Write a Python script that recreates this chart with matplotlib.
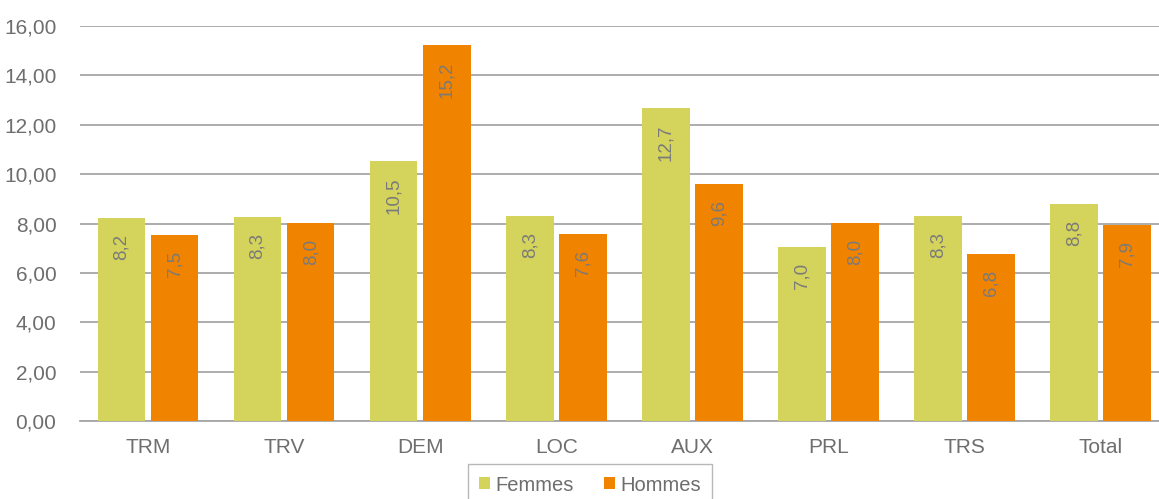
import matplotlib.pyplot as plt
import numpy as np

categories = ["TRM", "TRV", "DEM", "LOC", "AUX", "PRL", "TRS", "Total"]
femmes = [8.24, 8.26, 10.53, 8.30, 12.67, 7.04, 8.30, 8.79]
hommes = [7.53, 8.02, 15.22, 7.57, 9.60, 8.02, 6.76, 7.94]

col_f = "#D4D45C"
col_h = "#F08300"

plt.rcParams["font.family"] = ["Liberation Sans", "DejaVu Sans"]

fig = plt.figure(figsize=(11.59, 4.99), dpi=100)
ax = fig.add_axes([80 / 1159, 78 / 499, 1 - 80 / 1159, 395 / 499])

x = np.arange(len(categories))
w = 0.35
off = 0.195
b1 = ax.bar(x - off, femmes, w, color=col_f, label="Femmes", zorder=3)
b2 = ax.bar(x + off, hommes, w, color=col_h, label="Hommes", zorder=3)

for bars, vals in ((b1, femmes), (b2, hommes)):
    for b, v in zip(bars, vals):
        ax.text(b.get_x() + b.get_width() / 2, v - 0.65, f"{v:.1f}".replace(".", ","),
                rotation=90, ha="center", va="top", color="#7A7A7A",
                fontsize=13.5, zorder=4)

ax.set_ylim(0, 16)
ax.set_xlim(-0.5, 7.43)
ax.set_yticks(np.arange(0, 17, 2))
ax.set_yticklabels([f"{t:.2f}".replace(".", ",") for t in np.arange(0, 17, 2)])
ax.set_xticks(x)
ax.set_xticklabels(categories)
ax.yaxis.grid(True, color="#A6A6A6", linewidth=1.3, zorder=0)
for s in ["top", "right", "left"]:
    ax.spines[s].set_visible(False)
ax.spines["bottom"].set_color("#A6A6A6")
ax.spines["bottom"].set_linewidth(1.3)
ax.tick_params(axis="both", length=0, labelsize=15, labelcolor="#6E6E6E")
ax.tick_params(axis="y", pad=17)
ax.tick_params(axis="x", pad=12)

leg = ax.legend(loc="upper center", bbox_to_anchor=(0.4725, -0.11),
                ncol=2, fontsize=14.5, frameon=True, fancybox=False,
                handlelength=0.55, handleheight=0.55, handletextpad=0.25,
                columnspacing=1.5, borderpad=0.55, borderaxespad=0)
leg.get_frame().set_edgecolor("#A6A6A6")
leg.get_frame().set_linewidth(1.0)
for t in leg.get_texts():
    t.set_color("#6E6E6E")

fig.savefig("out.png", dpi=100)
